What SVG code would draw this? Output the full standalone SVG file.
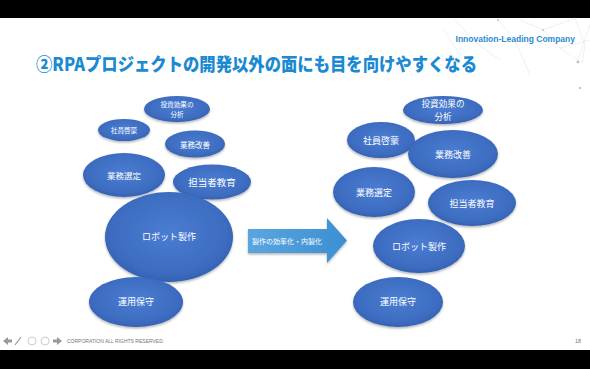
<svg xmlns="http://www.w3.org/2000/svg" width="590" height="369" viewBox="0 0 590 369">
<defs>
<radialGradient id="eg" cx="50%" cy="45%" r="60%">
<stop offset="0" stop-color="#4a7dd2"/>
<stop offset="0.75" stop-color="#3d6cc0"/>
<stop offset="1" stop-color="#305ca9"/>
</radialGradient>
<linearGradient id="ag" x1="0" y1="0" x2="1" y2="0">
<stop offset="0" stop-color="#5aa6de"/>
<stop offset="1" stop-color="#3c8fd3"/>
</linearGradient>
<filter id="sh" x="-20%" y="-20%" width="140%" height="150%">
<feDropShadow dx="0" dy="1.5" stdDeviation="1.2" flood-color="#000" flood-opacity="0.3"/>
</filter>
</defs>
<style>
.e{fill:url(#eg);filter:url(#sh)}
.t{fill:#fff;font-family:"Noto Sans CJK JP","Noto Sans",sans-serif;text-anchor:middle;dominant-baseline:central}
.net{stroke:#dfe6ee;stroke-width:0.6;fill:none}
</style>
<rect width="590" height="369" fill="#fff"/>
<rect x="0" y="0" width="590" height="18" fill="#000"/>
<rect x="0" y="350" width="590" height="19" fill="#000"/>
<g id="decor">
<path class="net" d="M455 20 L475 42 L500 60 M443 28 L460 55 M498 20 L515 40 L530 75 M520 20 L543 30 L575 18 M543 30 L560 48 L578 60 M575 18 L585 45 L582 63 M560 48 L590 40 M590 25 L577 62"/>
<circle cx="498" cy="20" r="1.2" fill="#c8d2dc"/>
<circle cx="543" cy="30" r="1.2" fill="#c8d2dc"/>
<circle cx="578" cy="62" r="1.4" fill="#b8c2cc"/>
<circle cx="580" cy="88" r="1.2" fill="#c0c8d0"/>
</g>
<text x="575" y="42" text-anchor="end" font-family="Liberation Sans, Arial, sans-serif" font-weight="bold" font-size="8.5" fill="#2b8bd0">Innovation-Leading Company</text>
<text x="36" y="70.5" font-family="Noto Sans CJK JP, sans-serif" font-weight="900" font-size="18" fill="#1b8ad3" textLength="441" lengthAdjust="spacingAndGlyphs">②RPAプロジェクトの開発以外の面にも目を向けやすくなる</text>
<g id="left-kikaku">
<ellipse class="e" cx="177" cy="109" rx="33" ry="13"/>
<text class="t" x="177" y="104" font-size="6.6">投資効果の</text>
<text class="t" x="177" y="113.5" font-size="6.6">分析</text>
</g>
<g id="left-keimou">
<ellipse class="e" cx="124" cy="130" rx="26" ry="11"/>
<text class="t" x="124" y="130" font-size="6.6">社員啓蒙</text>
</g>
<g id="left-kaizen">
<ellipse class="e" cx="195" cy="144" rx="30" ry="13.5"/>
<text class="t" x="195" y="144" font-size="7.5">業務改善</text>
</g>
<g id="left-sentei">
<ellipse class="e" cx="124" cy="175" rx="41" ry="22"/>
<text class="t" x="124" y="175" font-size="8.5">業務選定</text>
</g>
<g id="left-kyouiku">
<ellipse class="e" cx="212" cy="182" rx="39" ry="17.5"/>
<text class="t" x="212" y="182" font-size="9.5">担当者教育</text>
</g>
<g id="left-robot">
<ellipse class="e" cx="169" cy="237" rx="64" ry="45"/>
<text class="t" x="169" y="236" font-size="9">ロボット製作</text>
</g>
<g id="left-unyou">
<ellipse class="e" cx="136" cy="302" rx="47" ry="25"/>
<text class="t" x="136" y="301" font-size="9">運用保守</text>
</g>
<g id="connectors">
<path d="M248 229 L327 229 L327 218 L347 240.5 L327 263 L327 253 L248 253 Z" fill="url(#ag)" filter="url(#sh)"/>
<text class="t" x="287" y="241" font-size="7">製作の効率化・内製化</text>
</g>
<g id="right-kikaku">
<ellipse class="e" cx="443" cy="110" rx="40" ry="14"/>
<text class="t" x="443" y="103" font-size="8.6">投資効果の</text>
<text class="t" x="443" y="115.5" font-size="8.6">分析</text>
</g>
<g id="right-keimou">
<ellipse class="e" cx="381" cy="140" rx="34" ry="18"/>
<text class="t" x="381" y="140" font-size="9">社員啓蒙</text>
</g>
<g id="right-kaizen">
<ellipse class="e" cx="453" cy="154" rx="45" ry="24"/>
<text class="t" x="453" y="154" font-size="9">業務改善</text>
</g>
<g id="right-sentei">
<ellipse class="e" cx="374" cy="192" rx="41" ry="25"/>
<text class="t" x="374" y="192" font-size="9">業務選定</text>
</g>
<g id="right-kyouiku">
<ellipse class="e" cx="472" cy="203" rx="44" ry="23"/>
<text class="t" x="472" y="203" font-size="9">担当者教育</text>
</g>
<g id="right-robot">
<ellipse class="e" cx="419" cy="246" rx="46" ry="27"/>
<text class="t" x="419" y="246" font-size="9">ロボット製作</text>
</g>
<g id="right-unyou">
<ellipse class="e" cx="398" cy="302" rx="45" ry="25"/>
<text class="t" x="398" y="301" font-size="9">運用保守</text>
</g>
<g id="footer">
<text x="67" y="343" font-family="Liberation Sans, Arial, sans-serif" font-size="5" fill="#777">CORPORATION ALL RIGHTS RESERVED.</text>
<circle cx="32" cy="341" r="4" fill="none" stroke="#aaa" stroke-width="0.6"/>
<circle cx="45" cy="341" r="4" fill="none" stroke="#aaa" stroke-width="0.6"/>
<path d="M3 341 L8 337 L8 339.5 L12 339.5 L12 342.5 L8 342.5 L8 345 Z" fill="#999"/>
<path d="M62 341 L57 337 L57 339.5 L53 339.5 L53 342.5 L57 342.5 L57 345 Z" fill="#999"/>
<path d="M15 345 L21 337" stroke="#999" stroke-width="1.2"/>
<text x="581" y="343" text-anchor="end" font-family="Liberation Sans, Arial, sans-serif" font-size="5.5" fill="#777">18</text>
</g>
</svg>
